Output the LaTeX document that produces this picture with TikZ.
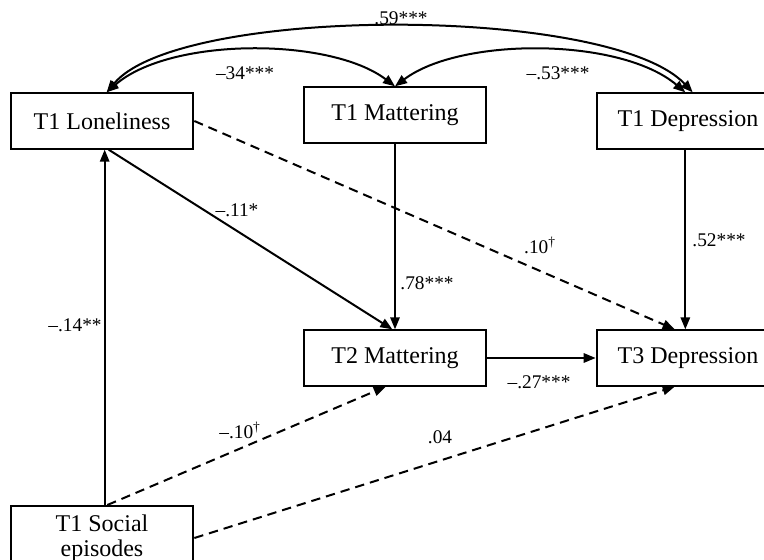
\documentclass[tikz,border=0pt]{standalone}
\usepackage{fontspec}
\setmainfont{Liberation Serif}
\usetikzlibrary{arrows.meta}

\begin{document}
\begin{tikzpicture}[
		x=0.75pt,y=-0.75pt,
		>={Triangle[length=9pt,width=7pt]},
		line join=miter,
		varbox/.style={draw, line width=1.5pt, minimum width=137pt, minimum height=41.5pt, inner sep=2pt, align=center, font=\fontsize{18}{20}\selectfont},
		path/.style={->, line width=1.5pt},
		dashpath/.style={->, line width=1.5pt, dash pattern=on 7pt off 4.5pt},
		covpath/.style={<->, line width=1.5pt},
		coef/.style={font=\fontsize{14.5}{16}\selectfont, inner sep=1pt}
	]
	\useasboundingbox (0,0) rectangle (764,560);
	
	% Variables
	\node[varbox] (lone1) at (102,121) {T1 Loneliness};
	\node[varbox] (mat1)  at (395,115) {T1 Mattering};
	\node[varbox] (dep1)  at (688,121) {T1 Depression};
	\node[varbox] (mat2)  at (395,358) {T2 Mattering};
	\node[varbox] (dep3)  at (688,358) {T3 Depression};
	\node[varbox, minimum height=48pt] (soc1) at (102,538) {T1 Social\\[-1pt]episodes};
	
	% Correlations
	\draw[covpath] ([xshift=3.5pt]dep1.north) .. controls (610,5) and (180,5) .. ([xshift=3.5pt]lone1.north);
	\draw[covpath] ([xshift=3.5pt]lone1.north) .. controls (170,37) and (330,37) .. (mat1.north);
	\draw[covpath] ([xshift=-2pt]dep1.north) .. controls (620,37) and (460,37) .. (mat1.north);
	\node[coef] (c59) at (401,18) {.59***};
	\node[coef] (c34) at (245,73) {–34***};
	\node[coef] (c53) at (558,73) {–.53***};
	
	% Paths
	\draw[path] (mat1.south) -- (mat2.north);
	\draw[path] ([xshift=-2pt]dep1.south) -- ([xshift=-2pt]dep3.north);
	\draw[path] ([xshift=5pt]lone1.south) -- ([xshift=-2pt]mat2.north);
	\draw[dashpath] (lone1.east) -- ([xshift=-10pt]dep3.north);
	\draw[path] ([xshift=2pt]soc1.north) -- ([xshift=2pt]lone1.south);
	\draw[path] (mat2.east) -- (dep3.west);
	\draw[dashpath] ([xshift=4pt]soc1.north) -- ([xshift=-7pt]mat2.south);
	\draw[dashpath] (soc1.east) -- ([xshift=-10pt]dep3.south);
	
	\node[coef] (c78) at (427,283) {.78***};
	\node[coef] (c52) at (719,240) {.52***};
	\node[coef] (c11) at (237,210) {–.11*};
	\node[coef] (c10a) at (540,245) {.10\textsuperscript{\dag}};
	\node[coef] (c14) at (75,325) {–.14**};
	\node[coef] (c27) at (539,382) {–.27***};
	\node[coef] (c10b) at (240,430) {–.10\textsuperscript{\dag}};
	\node[coef] (c04) at (440,437) {.04};
	
\end{tikzpicture}
\end{document}
